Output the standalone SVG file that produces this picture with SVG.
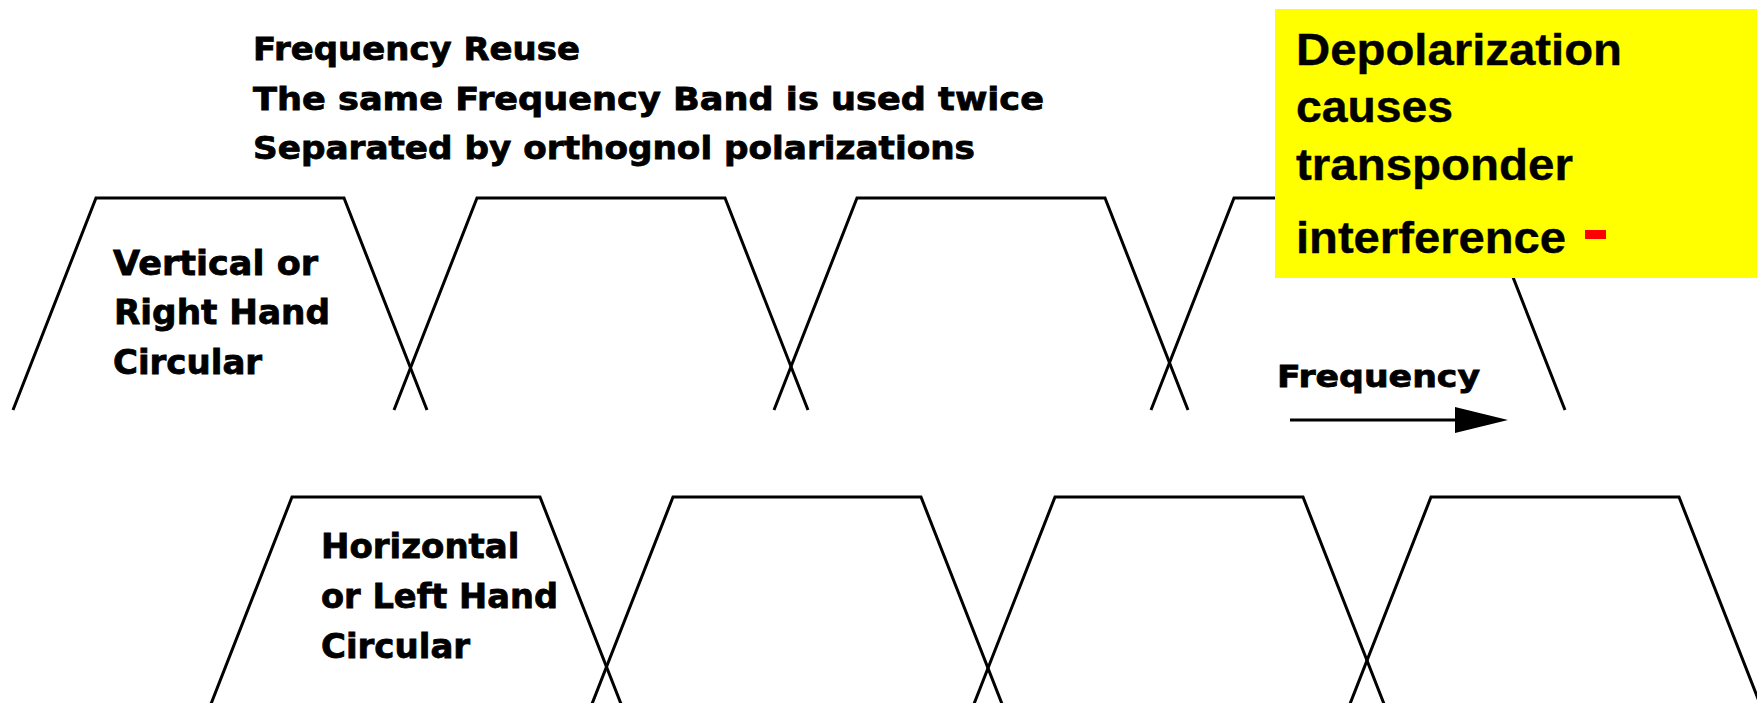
<svg xmlns="http://www.w3.org/2000/svg" width="1757" height="703" viewBox="0 0 1757 703">
<style>
.band{fill:none;stroke:#000;stroke-width:3;stroke-linejoin:miter}
.lbl{font-family:"DejaVu Sans","Liberation Sans",sans-serif;font-weight:bold;fill:#000;stroke:#000;stroke-width:0.8}
.note{font-family:"Liberation Sans",Arial,sans-serif;font-weight:bold;font-size:45px;fill:#000;stroke:#000;stroke-width:0.4}
</style>
<defs>
<path id="trap" d="M-83,212 L0,0 L248,0 L331,212"/>
</defs>
<rect width="1757" height="703" fill="#fff"/>
<g id="title">
<text class="lbl" x="253" y="60" font-size="32" textLength="327" lengthAdjust="spacingAndGlyphs">Frequency Reuse</text>
<text class="lbl" x="253" y="110" font-size="32" textLength="791" lengthAdjust="spacingAndGlyphs">The same Frequency Band is used twice</text>
<text class="lbl" x="253" y="159" font-size="32" textLength="722" lengthAdjust="spacingAndGlyphs">Separated by orthognol polarizations</text>
</g>
<g id="top-bands">
<use href="#trap" class="band" transform="translate(96,198)"/>
<use href="#trap" class="band" transform="translate(477,198)"/>
<use href="#trap" class="band" transform="translate(857,198)"/>
<use href="#trap" class="band" transform="translate(1234,198)"/>
</g>
<g id="bottom-bands">
<use href="#trap" class="band" transform="translate(292,497)"/>
<use href="#trap" class="band" transform="translate(673,497)"/>
<use href="#trap" class="band" transform="translate(1055,497)"/>
<use href="#trap" class="band" transform="translate(1431,497)"/>
</g>
<g id="vertical-label">
<text class="lbl" x="113" y="275" font-size="34" textLength="205" lengthAdjust="spacingAndGlyphs">Vertical or</text>
<text class="lbl" x="114" y="324" font-size="34" textLength="216" lengthAdjust="spacingAndGlyphs">Right Hand</text>
<text class="lbl" x="113" y="374" font-size="34">Circular</text>
</g>
<g id="horizontal-label">
<text class="lbl" x="321" y="558" font-size="34">Horizontal</text>
<text class="lbl" x="321" y="608" font-size="34" textLength="237" lengthAdjust="spacingAndGlyphs">or Left Hand</text>
<text class="lbl" x="321" y="658" font-size="34">Circular</text>
</g>
<g id="frequency-axis">
<text class="lbl" x="1277" y="387" font-size="31" textLength="203" lengthAdjust="spacingAndGlyphs">Frequency</text>
</g>
<g id="connectors">
<line x1="1290" y1="420" x2="1458" y2="420" stroke="#000" stroke-width="3.2"/>
<polygon points="1455,407 1508,420 1455,433" fill="#000"/>
</g>
<g id="depolarization-note">
<rect x="1275" y="9" width="482" height="269" fill="#ffff00"/>
<text class="note" x="1296" y="65" textLength="326" lengthAdjust="spacingAndGlyphs">Depolarization</text>
<text class="note" x="1296" y="122" textLength="157" lengthAdjust="spacingAndGlyphs">causes</text>
<text class="note" x="1296" y="180" textLength="277" lengthAdjust="spacingAndGlyphs">transponder</text>
<text class="note" x="1296" y="253" textLength="270" lengthAdjust="spacingAndGlyphs">interference</text>
<rect x="1585" y="230" width="21" height="9" fill="#ff0000"/>
</g>
</svg>
